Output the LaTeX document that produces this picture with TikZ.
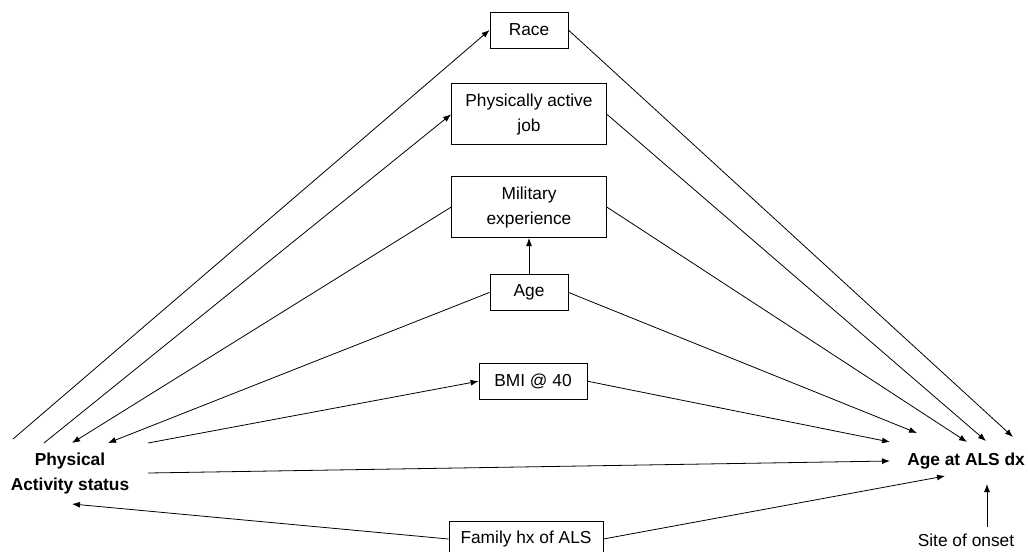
\documentclass[tikz,border=0pt]{standalone}
\usepackage{fontspec}
\setmainfont{Liberation Sans}
\usetikzlibrary{positioning,calc,arrows.meta}
\tikzset{
  factor/.style={draw, line width=0.6pt, align=center, minimum height=27pt, inner sep=2pt, font=\fontsize{13}{18.75}\selectfont},
  wide/.style={factor, minimum width=116.25pt, minimum height=45.75pt},
  outcome/.style={align=center, inner sep=0pt, font=\fontsize{13}{18.75}\selectfont\bfseries},
  plain/.style={align=center, inner sep=0pt, font=\fontsize{13}{18.75}\selectfont},
  arr/.style={-{Latex[length=6pt,width=4.5pt]}, line width=0.6pt},
  ln/.style={line width=0.6pt},
}
\begin{document}
\begin{tikzpicture}[x=0.75pt,y=-0.75pt]
\useasboundingbox (0,0) rectangle (1028,551);
% nodes
 \node[factor, minimum width=58.5pt] (race) at (529,30) {Race};
 \node[wide, below=26.25pt of race] (job) {Physically active\\job};
 \node[wide, below=23.25pt of job] (mil) {Military\\experience};
 \node[factor, minimum width=58.5pt, below=27pt of mil] (age) {Age};
 \node[factor, minimum width=81pt, below=39pt of age, xshift=3pt] (bmi) {BMI @ 40};
 \node[factor, minimum width=115.5pt, below=90.75pt of bmi, xshift=-5.25pt] (fam) {Family hx of ALS};
 \node[outcome] (pas) at (70,474) {Physical\\Activity status};
 \node[outcome] (als) at (966,461) {Age at ALS dx};
 \node[plain] (site) at (966,540) {Site of onset};

% edges
 \draw[arr] ($(pas)+(-57,-35)$) -- (race.west);
 \draw[arr] ($(pas)+(-26,-31)$) -- (job.west);
 \draw[arr] (mil.west) -- ($(pas)+(2,-31)$);
 \draw[arr] (age.west) -- ($(pas)+(38,-31)$);
 \draw[arr] ($(pas)+(78,-31)$) -- (bmi.west);
 \draw[arr] (fam.west) -- ($(pas)+(2,30)$);
 \draw[arr] (age.north) -- (mil.south);

 \draw[arr] (race.east) -- ($(als)+(47,-24)$);
 \draw[arr] (job.east) -- ($(als)+(20,-20)$);
 \draw[arr] (mil.east) -- ($(als)+(1,-19)$);
 \draw[arr] (age.east) -- ($(als)+(-49,-28)$);
 \draw[arr] (bmi.east) -- ($(als)+(-76,-19)$);
 \draw[arr] ($(pas)+(78,-1)$) -- ($(als)+(-76,0)$);
 \draw[arr] (fam.east) -- ($(als)+(-21,15)$);
 \draw[arr] ($(site)+(21,-13)$) -- ($(als)+(21,23)$);
\end{tikzpicture}
\end{document}
